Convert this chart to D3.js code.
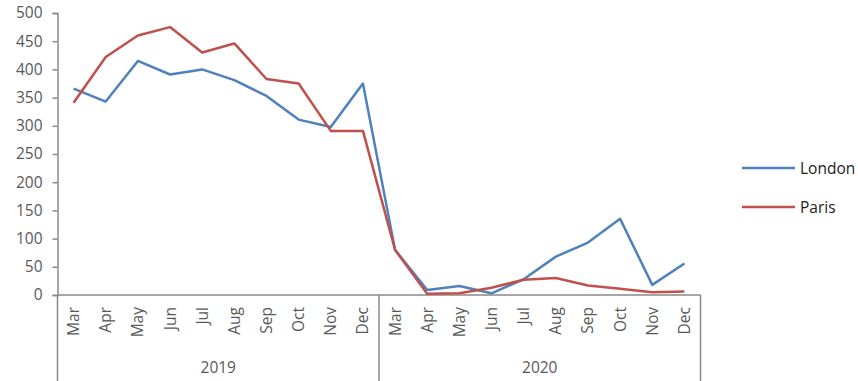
<!DOCTYPE html>
<html><head><meta charset="utf-8">
<script src="https://cdn.jsdelivr.net/npm/d3@7"></script>
<style>
html,body{margin:0;padding:0;background:#fff;}
svg{display:block;font-family:"Open Sans","Liberation Sans",sans-serif;}
</style></head>
<body>
<svg id="chart" width="858" height="381"></svg>
<script>
const years = ["2019", "2020"];
const months = ["Mar","Apr","May","Jun","Jul","Aug","Sep","Oct","Nov","Dec"];
const yTicks = [0,50,100,150,200,250,300,350,400,450,500];
const london = [366,343,415,391,400,381,353,311,298,375, 80,9,16,3,28,68,93,135,18,56];
const paris  = [341,422,460,475,430,446,383,375,291,291, 80,2,3,13,27,30,17,11,5,6];
const seriesNames = ["London","Paris"];
const colors = ["#4F81BD","#C0504D"];

const cats = [];
years.forEach(y => months.forEach(m => cats.push(y + "-" + m)));
const series = [london, paris];

const svg = d3.select("#chart");
const x0 = 57.5, x1 = 700.5, yTop = 13, yBot = 295;
const x = d3.scaleBand().domain(cats).range([x0, x1]);
const y = d3.scaleLinear().domain([0, 500]).range([yBot, yTop]);
const axisColor = "#898989", textColor = "#595959";

// Y axis
const yAxis = svg.append("g").attr("transform", `translate(${x0},0)`)
  .call(d3.axisLeft(y).tickValues(yTicks).tickSize(5).tickPadding(10));
yAxis.select(".domain").attr("stroke", axisColor).attr("stroke-width", 1.5);
yAxis.selectAll(".tick line").attr("stroke", axisColor).attr("stroke-width", 1.5);
yAxis.selectAll(".tick text").attr("fill", textColor).style("font-size", "15.5px")
  .style("font-family", '"Open Sans","Liberation Sans",sans-serif');

// X axis line
svg.append("line").attr("x1", x0).attr("x2", x1).attr("y1", yBot).attr("y2", yBot)
  .attr("stroke", axisColor).attr("stroke-width", 1.5);

// Year separators
const sepXs = [x0, x(years[1] + "-" + months[0]), x1];
svg.selectAll("line.sep").data(sepXs).enter().append("line").attr("class","sep")
  .attr("x1", d => d).attr("x2", d => d).attr("y1", yBot).attr("y2", 381)
  .attr("stroke", axisColor).attr("stroke-width", 1.5);

// Month labels
svg.selectAll("text.month").data(cats).enter().append("text").attr("class","month")
  .attr("transform", d => `translate(${x(d) + x.bandwidth()/2 + 5.5},${yBot + 12}) rotate(-90)`)
  .attr("text-anchor", "end")
  .attr("fill", textColor).style("font-size", "15.5px")
  .text(d => d.split("-")[1]);

// Year labels
svg.selectAll("text.year").data(years).enter().append("text").attr("class","year")
  .attr("x", (d, i) => (sepXs[i] + sepXs[i+1]) / 2)
  .attr("y", 373).attr("text-anchor", "middle")
  .attr("fill", textColor).style("font-size", "15.5px")
  .text(d => d);

// Lines
const line = d3.line().x((d, i) => x(cats[i]) + x.bandwidth()/2).y(d => y(d));
series.forEach((s, k) => {
  svg.append("path").datum(s).attr("d", line).attr("fill", "none")
    .attr("stroke", colors[k]).attr("stroke-width", 2.5).attr("stroke-linejoin", "round");
});

// Legend
const legY = [168, 207];
seriesNames.forEach((n, k) => {
  svg.append("line").attr("x1", 742).attr("x2", 795).attr("y1", legY[k]).attr("y2", legY[k])
    .attr("stroke", colors[k]).attr("stroke-width", 2.5);
  svg.append("text").attr("x", 800).attr("y", legY[k] + 5.5)
    .attr("fill", "#222").style("font-size", "15.5px").text(n);
});
</script>
</body></html>
